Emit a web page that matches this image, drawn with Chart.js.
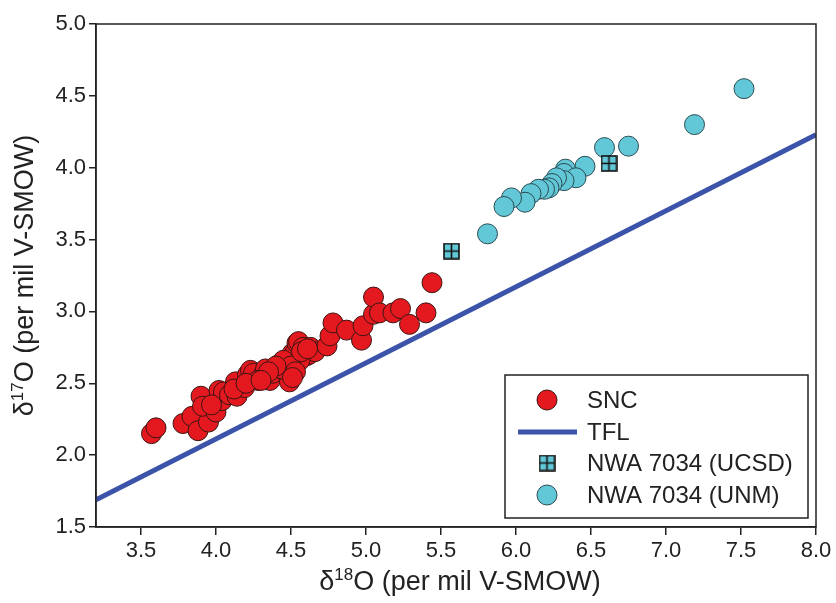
<!DOCTYPE html>
<html>
<head>
<meta charset="utf-8">
<script src="https://cdn.jsdelivr.net/npm/chart.js@4.4.1/dist/chart.umd.min.js"></script>
<style>
    html, body { margin: 0; padding: 0; background: #fff; }
    #wrap { width: 836px; height: 603px; }
</style>
</head>
<body>
<div id="wrap"><canvas id="grafico" width="836" height="603"></canvas></div>
<script>
// SNC meteorites (d18O, d17O per mil V-SMOW)
const sncD18O = [3.57, 3.60, 3.78, 3.84, 3.88, 3.95, 3.90, 3.91, 4.00, 4.01, 4.04, 4.02, 4.05, 4.09,
    4.13, 4.14, 4.19, 4.21, 4.23, 4.25, 4.31, 4.33, 4.36, 4.38, 4.43, 4.47, 4.49, 4.48, 4.51, 4.52,
    4.54, 4.55, 4.58, 4.60, 4.63, 4.62, 4.66, 4.74, 4.76, 4.78, 4.87, 4.97, 4.98, 5.05, 5.05, 5.09,
    5.18, 5.23, 5.29, 5.40, 5.44, 4.28, 4.44, 4.56, 4.12, 3.97, 4.45, 4.50, 4.53, 4.40, 4.35, 4.57,
    4.61, 4.20, 4.30, 4.51];
const sncD17O = [2.15, 2.19, 2.22, 2.27, 2.17, 2.23, 2.41, 2.34, 2.30, 2.38, 2.38, 2.45, 2.44, 2.42,
    2.51, 2.41, 2.47, 2.56, 2.59, 2.57, 2.55, 2.60, 2.52, 2.57, 2.64, 2.57, 2.51, 2.64, 2.71, 2.70,
    2.78, 2.79, 2.75, 2.69, 2.75, 2.70, 2.72, 2.76, 2.83, 2.92, 2.87, 2.80, 2.90, 2.98, 3.10, 2.99,
    2.99, 3.02, 2.91, 2.99, 3.20, 2.52, 2.60, 2.66, 2.46, 2.35, 2.66, 2.62, 2.58, 2.62, 2.58, 2.72,
    2.74, 2.50, 2.52, 2.54];

// NWA 7034, UCSD lab
const ucsdD18O = [5.57, 6.62];
const ucsdD17O = [3.42, 4.03];

// NWA 7034, UNM lab
const unmD18O = [7.52, 7.19, 6.75, 6.59, 6.46, 6.33, 6.32, 6.40, 6.32, 6.27, 6.24, 6.22, 6.19,
    6.15, 6.10, 6.06, 5.97, 5.92, 5.81];
const unmD17O = [4.55, 4.30, 4.15, 4.14, 4.01, 3.99, 3.96, 3.93, 3.91, 3.93, 3.89, 3.86, 3.85,
    3.85, 3.82, 3.76, 3.79, 3.73, 3.54];

// terrestrial fractionation line, ends at the plot edges
const tflD18O = [3.2, 8.0];
const tflD17O = [1.69, 4.23];

const xTicks = [3.5, 4.0, 4.5, 5.0, 5.5, 6.0, 6.5, 7.0, 7.5, 8.0];
const yTicks = [1.5, 2.0, 2.5, 3.0, 3.5, 4.0, 4.5, 5.0];

const corSnc = '#e3191f';
const corUnm = '#62c7d7';
const corTfl = '#3b54a9';
const corEixo = '#222';
const fonte = '"Liberation Sans", Arial, sans-serif';
const raio = 10;

function pares(xs, ys) {
    return xs.map((x, i) => ({ x: x, y: ys[i] }));
}

// square marker with a cross inside
function criarQuadrado(tam) {
    const c = document.createElement('canvas');
    c.width = tam + 2;
    c.height = tam + 2;
    const g = c.getContext('2d');
    g.fillStyle = corUnm;
    g.fillRect(1, 1, tam, tam);
    g.strokeStyle = '#111';
    g.lineWidth = 1.6;
    g.strokeRect(1, 1, tam, tam);
    g.beginPath();
    g.moveTo(1 + tam / 2, 1);
    g.lineTo(1 + tam / 2, 1 + tam);
    g.moveTo(1, 1 + tam / 2);
    g.lineTo(1 + tam, 1 + tam / 2);
    g.stroke();
    return c;
}
const quadrado = criarQuadrado(15);

// text with a superscript piece: d + sup + rest
function textoSobrescrito(ctx, base, sup, resto, x, y, tam) {
    ctx.font = tam + 'px ' + fonte;
    const w1 = ctx.measureText(base).width;
    const w3 = ctx.measureText(resto).width;
    ctx.font = Math.round(tam * 0.62) + 'px ' + fonte;
    const w2 = ctx.measureText(sup).width;
    let xi = x - (w1 + w2 + w3) / 2;
    ctx.textBaseline = 'middle';
    ctx.textAlign = 'left';
    ctx.font = tam + 'px ' + fonte;
    ctx.fillText(base, xi, y);
    ctx.font = Math.round(tam * 0.62) + 'px ' + fonte;
    ctx.fillText(sup, xi + w1, y - tam * 0.3);
    ctx.font = tam + 'px ' + fonte;
    ctx.fillText(resto, xi + w1 + w2, y);
}

const molduraPlugin = {
    id: 'moldura',
    afterDraw(chart) {
        const ctx = chart.ctx;
        const a = chart.chartArea;
        ctx.save();
        ctx.strokeStyle = corEixo;
        ctx.lineWidth = 1.5;
        ctx.strokeRect(a.left, a.top, a.right - a.left, a.bottom - a.top);

        // axis titles
        ctx.fillStyle = '#222';
        textoSobrescrito(ctx, 'δ', '18', 'O (per mil V-SMOW)', (a.left + a.right) / 2 + 4, 583, 27);
        ctx.save();
        ctx.translate(26, (a.top + a.bottom) / 2);
        ctx.rotate(-Math.PI / 2);
        textoSobrescrito(ctx, 'δ', '17', 'O (per mil V-SMOW)', 0, 0, 27);
        ctx.restore();

        // legend box
        const lx = 505, ly = 375, lw = 303, lh = 143;
        ctx.fillStyle = '#fff';
        ctx.fillRect(lx, ly, lw, lh);
        ctx.strokeStyle = corEixo;
        ctx.lineWidth = 1.5;
        ctx.strokeRect(lx, ly, lw, lh);

        const mx = 547, tx = 587;
        const linhas = [400, 432, 463, 495];
        const nomes = ['SNC', 'TFL', 'NWA 7034 (UCSD)', 'NWA 7034 (UNM)'];

        ctx.lineWidth = 1;
        ctx.strokeStyle = '#3b1512';
        ctx.fillStyle = corSnc;
        ctx.beginPath();
        ctx.arc(mx, linhas[0], raio, 0, Math.PI * 2);
        ctx.fill();
        ctx.stroke();

        ctx.strokeStyle = corTfl;
        ctx.lineWidth = 5;
        ctx.beginPath();
        ctx.moveTo(518, linhas[1]);
        ctx.lineTo(577, linhas[1]);
        ctx.stroke();

        ctx.drawImage(quadrado, mx - quadrado.width / 2, linhas[2] - quadrado.height / 2);

        ctx.lineWidth = 1;
        ctx.strokeStyle = '#2a4c53';
        ctx.fillStyle = corUnm;
        ctx.beginPath();
        ctx.arc(mx, linhas[3], raio, 0, Math.PI * 2);
        ctx.fill();
        ctx.stroke();

        ctx.fillStyle = '#222';
        ctx.font = '24px ' + fonte;
        ctx.textAlign = 'left';
        ctx.textBaseline = 'middle';
        nomes.forEach((n, i) => ctx.fillText(n, tx, linhas[i] + 1));
        ctx.restore();
    }
};

const ctx = document.getElementById('grafico').getContext('2d');
window.meuGrafico = new Chart(ctx, {
    type: 'scatter',
    data: {
        datasets: [
            {
                label: 'TFL',
                type: 'line',
                data: pares(tflD18O, tflD17O),
                borderColor: corTfl,
                borderWidth: 5,
                pointRadius: 0,
                fill: false,
                order: 4
            },
            {
                label: 'SNC',
                data: pares(sncD18O, sncD17O),
                backgroundColor: corSnc,
                borderColor: '#3b1512',
                borderWidth: 1,
                pointRadius: raio,
                order: 3
            },
            {
                label: 'NWA 7034 (UNM)',
                data: pares(unmD18O, unmD17O),
                backgroundColor: corUnm,
                borderColor: '#2a4c53',
                borderWidth: 1,
                pointRadius: raio,
                order: 2
            },
            {
                label: 'NWA 7034 (UCSD)',
                data: pares(ucsdD18O, ucsdD17O),
                pointStyle: quadrado,
                order: 1
            }
        ]
    },
    options: {
        responsive: false,
        animation: false,
        layout: { padding: { left: 0, top: 24, right: 20, bottom: 0 } },
        plugins: { legend: { display: false }, tooltip: { enabled: false } },
        scales: {
            x: {
                type: 'linear',
                min: 3.2,
                max: 8.0,
                afterBuildTicks: s => { s.ticks = xTicks.map(v => ({ value: v })); },
                afterFit: s => { s.height = 76; },
                grid: { drawOnChartArea: false, tickLength: 8, color: corEixo, lineWidth: 1.5 },
                border: { color: corEixo, width: 1.5 },
                ticks: {
                    color: '#222',
                    padding: 3,
                    maxRotation: 0,
                    font: { family: fonte, size: 22 },
                    callback: v => Number(v).toFixed(1)
                }
            },
            y: {
                type: 'linear',
                min: 1.5,
                max: 5.0,
                afterBuildTicks: s => { s.ticks = yTicks.map(v => ({ value: v })); },
                afterFit: s => { s.width = 96; },
                grid: { drawOnChartArea: false, tickLength: 7, color: corEixo, lineWidth: 1.5 },
                border: { color: corEixo, width: 1.5 },
                ticks: {
                    color: '#222',
                    padding: 3,
                    font: { family: fonte, size: 22 },
                    callback: v => Number(v).toFixed(1)
                }
            }
        }
    },
    plugins: [molduraPlugin]
});
</script>
</body>
</html>
